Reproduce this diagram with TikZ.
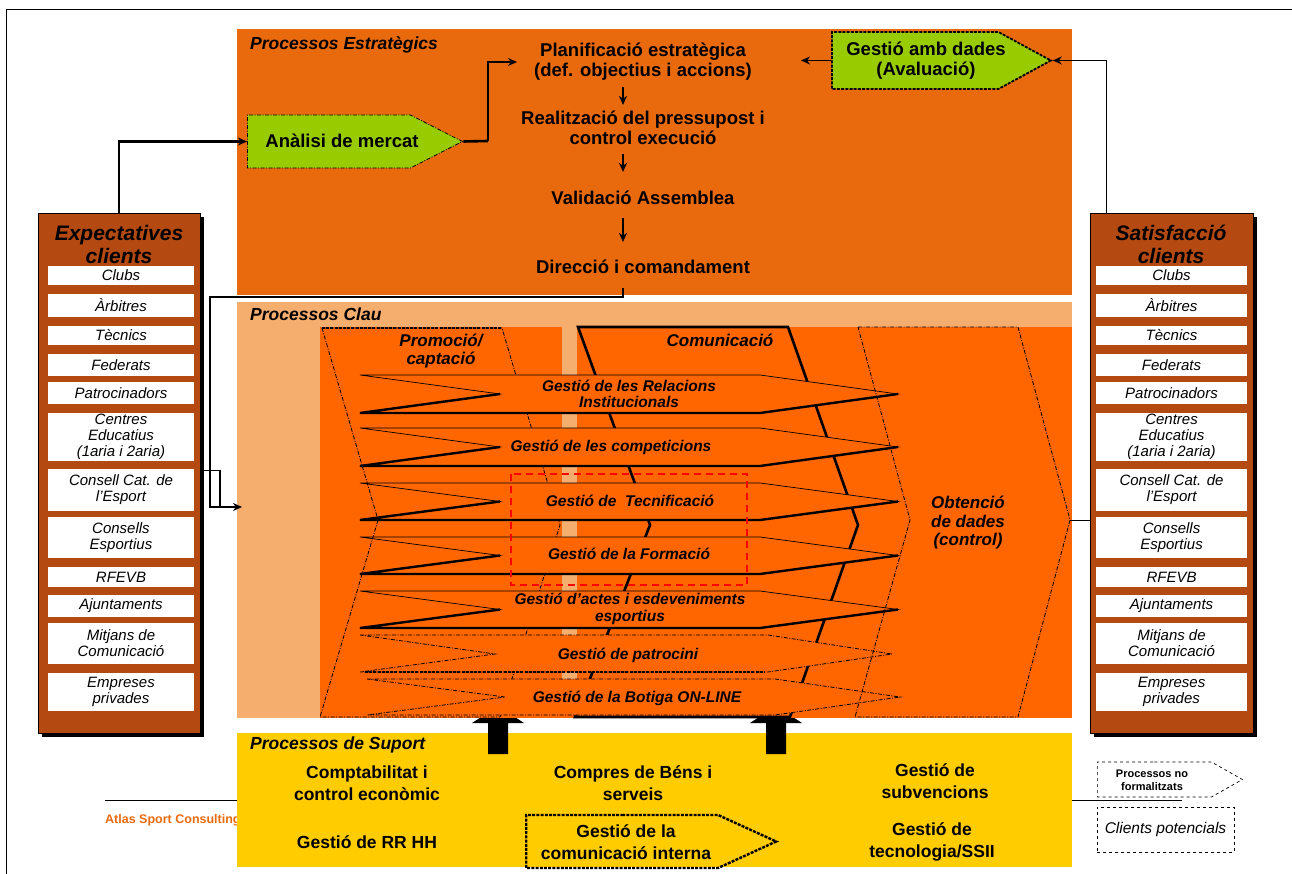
\documentclass[tikz,border=0pt]{standalone}
\usepackage{fontspec}
\setmainfont{Liberation Sans}
\usetikzlibrary{arrows.meta,positioning,shapes.symbols}

\definecolor{estrat}{RGB}{233,106,12}
\definecolor{claulight}{RGB}{246,174,110}
\definecolor{claudark}{RGB}{255,102,0}
\definecolor{clientbrown}{RGB}{180,74,18}
\definecolor{greenproc}{RGB}{153,204,0}
\definecolor{suportyellow}{RGB}{255,204,0}

\newcommand{\fsz}[2]{\fontsize{#1}{#2}\selectfont}

\tikzset{
  thickline/.style={line width=2.6pt},
  dashdot/.style={line width=0.8pt, dash pattern=on 4pt off 1.5pt on 1pt off 1.5pt},
  dotthick/.style={line width=2.4pt, dash pattern=on 3pt off 1.2pt},
  sectitle/.style={anchor=west, inner sep=0pt, font=\fsz{17.5}{19}\bfseries\itshape},
  strat/.style={align=center, inner sep=2pt, font=\fsz{18.5}{20}\bfseries},
  item/.style={fill=white, inner sep=0pt, align=center, font=\fsz{15}{16}\itshape},
  clientbox/.style={draw=black, fill=clientbrown, minimum width=162pt, minimum height=520pt, inner sep=0pt},
  clienttitle/.style={align=center, inner sep=0pt, font=\fsz{21}{23}\bfseries\itshape},
  pentagon/.style={signal, signal to=east, inner sep=0pt, anchor=west},
  colhead/.style={align=center, inner sep=0pt, font=\fsz{17}{18.5}\bfseries\itshape},
  proclbl/.style={align=center, inner sep=0pt, font=\fsz{15.5}{16.5}\bfseries\itshape},
  suptxt/.style={align=center, inner sep=0pt, font=\fsz{17.5}{22}\bfseries},
  procarrow/.style={draw=black, fill=claudark, line width=0.7pt},
}

\begin{document}
\begin{tikzpicture}[x=1pt, y=-1pt, >={Stealth[length=9pt,width=8pt]}]
  \useasboundingbox (0,0) rectangle (1292,874);

  % page frame and footer
  \draw[line width=1pt] (6,874) -- (6,10) -- (1292,10);
  \draw[line width=0.8pt] (105,800) -- (1182,800);
  \node[anchor=west, inner sep=0pt, text=estrat, font=\fsz{12.5}{14}\bfseries] (atlas) at (105,820) {Atlas Sport Consulting};

  % bands
  \fill[estrat] (237,29) rectangle (1072,295);
  \fill[suportyellow] (237,733) rectangle (1072,867);
  \foreach \bx in {498,776}
    \fill[black] (\bx-10,754) -- (\bx-10,723) -- (\bx-26,723) -- (\bx,706) -- (\bx+26,723) -- (\bx+10,723) -- (\bx+10,754) -- cycle;
  \fill[claulight] (237,302) rectangle (1072,718);
  \fill[claudark] (320,327) rectangle (1072,718);
  \fill[claulight] (562,327) rectangle (577,680);

  % columns of the key processes
  \draw[dashdot] (322,328) -- (502,328) -- (560,525) -- (500,717) -- (320,717);
  \draw[dotthick] (322,328) -- (502,328);
  \draw[line width=2.6pt] (578,327) -- (788,327) -- (858,525) -- (790,717) -- (575,717) -- (650,525) -- cycle;

  % process arrows
  \foreach \yt/\yb in {375/413, 428/466, 483/520, 537/574, 591/628}{
    \draw[procarrow] (360,\yt) -- (760,\yt) -- (898,{(\yt+\yb)/2}) -- (760,\yb) -- (360,\yb) -- (500,{(\yt+\yb)/2}) -- cycle;
    \draw[line width=2.4pt] (500,{(\yt+\yb)/2}) -- (360,\yb) -- (760,\yb) -- (898,{(\yt+\yb)/2});
  }
  \draw[procarrow, dashdot] (360,635) -- (768,635) -- (892,654) -- (768,672) -- (360,672) -- (495,654) -- cycle;
  \draw[procarrow, dashdot] (367,679) -- (775,679) -- (900,697) -- (775,715) -- (367,715) -- (505,697) -- cycle;
  \draw[dotthick] (365,672) -- (765,672);

  \draw[red, line width=1.6pt, dash pattern=on 7pt off 5pt] (511,474) rectangle (747,585);
  \draw[dashdot] (322,328) -- (378,520) -- (320,717);
  \draw[dashdot] (858,327) -- (1018,327) -- (1070,520) -- (1018,717) -- (855,717) -- (910,520) -- cycle;
  \coordinate (obt) at (1070,520);

  % section titles
  \node[sectitle] (esttitle) at (250,45) {Processos Estratègics};
  \node[sectitle] (clautitle) at (250,314) {Processos Clau};
  \node[sectitle] (suptitle) at (250,745) {Processos de Suport};

  \node[colhead] (promo) at (441,351) {Promoció/\\captació};
  \node[colhead] (comu) at (720,340) {Comunicació};
  \node[colhead] (obten) at (968,523) {Obtenció\\de dades\\(control)};

  \node[proclbl] (rel) at (629,394) {Gestió de les Relacions\\Institucionals};
  \node[proclbl] (comp) at (611,447) {Gestió de les competicions};
  \node[proclbl] (tec) at (630,501) {Gestió de\ \ Tecnificació};
  \node[proclbl] (form) at (629,554) {Gestió de la Formació};
  \node[proclbl] (actes) at (630,609) {Gestió d’actes i esdeveniments\\esportius};
  \node[proclbl] (patro) at (628,655) {Gestió de patrocini};
  \node[proclbl] (botiga) at (637,698) {Gestió de la Botiga ON-LINE};

  % strategic chain
  \node[strat] (plan) at (643,62) {Planificació estratègica\\(def. objectius i accions)};
  \node[strat] (pres) [below of=plan, node distance=66pt] {Realització del pressupost i\\control execució};
  \node[strat] (valid) [below of=pres, node distance=70pt] {Validació Assemblea};
  \node[strat] (dir) [below of=valid, node distance=69pt] {Direcció i comandament};
  \coordinate (ax) at (623,0);
  \draw[->, line width=2pt, shorten <=4pt, shorten >=4pt] (ax |- plan.south) -- (ax |- pres.north);
  \draw[->, line width=2pt, shorten <=7pt, shorten >=17pt] (ax |- pres.south) -- (ax |- valid.north);
  \draw[->, line width=2pt, shorten <=11pt, shorten >=16pt] (ax |- valid.south) -- (ax |- dir.north);

  \node[pentagon, draw=black, dashdot, fill=greenproc, minimum width=215pt, minimum height=53pt, signal pointer angle=54] (ana) at (247,141.5) {};
  \node[strat] (analbl) at (342,141) {Anàlisi de mercat};
  \node[pentagon, draw=black, line width=1.8pt, dash pattern=on 3pt off 1.2pt, fill=greenproc, minimum width=219pt, minimum height=57pt, signal pointer angle=57] (gad) at (831,60.5) {};
  \node[strat] (gadlbl) at (926,61) {Gestió amb dades\\(Avaluació)};

  % client columns
  \fill[black] (42,217) rectangle (204,737);
  \node[clientbox] (exp) at (119,473) {};
  \fill[black] (1094,217) rectangle (1257,737);
  \node[clientbox, minimum width=163pt] (sat) at (1171.5,473) {};
  \node[clienttitle] (exptitle) at (119,244) {Expectatives\\clients};
  \node[clienttitle] (sattitle) at (1171,244) {Satisfacció\\clients};
  \foreach \ya/\yb/\txt [count=\i] in {266/285/Clubs, 294/317/Àrbitres, 326/345/Tècnics, 354/376/Federats, 382/404/Patrocinadors, 413/461/{Centres\\Educatius\\(1aria i 2aria)}, 469/511/{Consell Cat. de\\l’Esport}, 517/558/{Consells\\Esportius}, 567/587/RFEVB, 595/617/Ajuntaments, 623/664/{Mitjans de\\Comunicació}, 673/711/{Empreses\\privades}}{
    \node[item, minimum width=146pt, minimum height={(\yb-\ya)*1pt}] (expi\i) at (121,{(\ya+\yb)/2}) {\txt};
    \node[item, minimum width=151pt, minimum height={(\yb-\ya)*1pt}] (sati\i) at (1171.5,{(\ya+\yb)/2}) {\txt};
  }

  % connectors
  \coordinate (anaj) at (488,141);
  \coordinate (clj) at (210,297);
  \coordinate (clauin) at (242,507);
  \coordinate (lvl) at (0,470);
  \coordinate (exj) at (220,470);
  \draw[thickline, ->] (exp.north) |- (ana.west);
  \draw[thickline] (ana.east) -- (anaj);
  \draw[->, line width=1.3pt] (anaj) |- ([xshift=-15pt]plan.west);
  \draw[->, line width=1.3pt, shorten >=47pt] (gad.west) -- (plan.east |- gad.west);
  \draw[->, line width=1.3pt] ([xshift=-65pt]sat.north) |- (gad.east);
  \draw[line width=1pt] (obt) -- (sat.west |- obt);
  \draw[thickline, ->, shorten <=12pt] (ax |- dir.south) |- (clj) |- (clauin);
  \draw[line width=1pt] (exp.east |- lvl) -- (exj);
  \draw[thickline] (exj) -- (exj |- clauin);

  % support processes
  \node[suptxt] (compt) at (367,783) {Comptabilitat i\\control econòmic};
  \node[suptxt] (compres) at (633,783) {Compres de Béns i\\serveis};
  \node[suptxt] (subv) at (935,781) {Gestió de\\subvencions};
  \node[suptxt] (rrhh) at (367,842) {Gestió de RR HH};
  \node[pentagon, draw=black, dotthick, minimum width=250pt, minimum height=53pt, signal pointer angle=49] (cint) at (525,841.5) {};
  \node[suptxt] (cintlbl) at (626,842) {Gestió de la\\comunicació interna};
  \node[suptxt] (tecno) at (932,842) {Gestió de\\tecnologia/SSII};

  % legend
  \node[pentagon, draw=black, dashed, line width=0.7pt, minimum width=145pt, minimum height=35pt, signal pointer angle=59] (legproc) at (1097,779.5) {};
  \node[align=center, inner sep=0pt, font=\fsz{11}{13}\bfseries] (legproclbl) at (1152,780) {Processos no\\formalitzats};
  \node[draw=black, dashed, line width=0.7pt, minimum width=137pt, minimum height=45pt, inner sep=0pt, font=\fsz{15.5}{17}\itshape] (legcli) at (1165.5,829.5) {Clients potencials};
\end{tikzpicture}
\end{document}
